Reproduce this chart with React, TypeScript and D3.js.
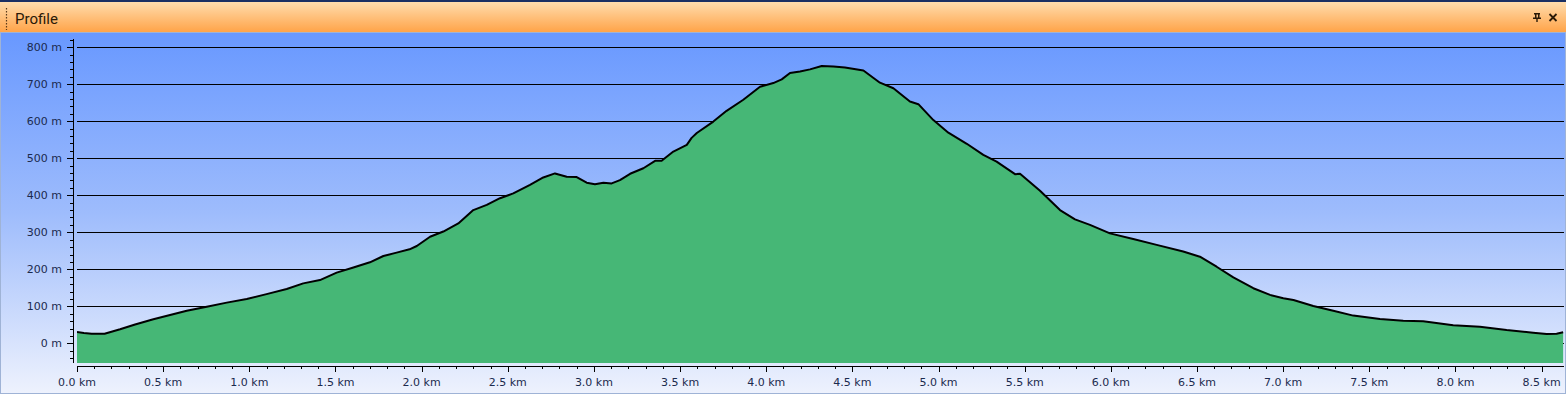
import React from "react";
import * as d3 from "d3";

const distanceKm = [
  0, 0.04, 0.085, 0.16, 0.25, 0.337, 0.443, 0.54, 0.637, 0.753, 0.869, 0.985,
  1.1, 1.217, 1.313, 1.41, 1.507, 1.604, 1.7, 1.778, 1.855, 1.93, 1.972, 2.049,
  2.126, 2.213, 2.3, 2.378, 2.455, 2.532, 2.629, 2.706, 2.774, 2.842, 2.9,
  2.958, 3.006, 3.055, 3.103, 3.151, 3.21, 3.287, 3.355, 3.393, 3.461, 3.539,
  3.567, 3.597, 3.693, 3.77, 3.867, 3.964, 4.041, 4.09, 4.138, 4.196, 4.254,
  4.322, 4.39, 4.457, 4.564, 4.66, 4.738, 4.834, 4.883, 4.97, 5.057, 5.164,
  5.26, 5.337, 5.444, 5.473, 5.589, 5.705, 5.792, 5.879, 5.995, 6.13, 6.266,
  6.42, 6.517, 6.614, 6.711, 6.827, 6.924, 7.001, 7.06, 7.175, 7.291, 7.407,
  7.562, 7.697, 7.813, 7.987, 8.142, 8.297, 8.451, 8.529, 8.587, 8.625,
];
const elevationM = [
  30.5, 28, 26, 26, 38, 51, 65, 76.5, 88, 99, 110, 120, 133, 147, 162, 171, 191,
  205, 219, 236, 245, 254, 263, 288, 302, 324, 360, 374, 392, 405, 428, 448, 459,
  450, 449, 434, 430, 434, 432, 441, 458, 473, 493, 493, 518, 536, 555, 568, 599,
  628, 658, 693, 703, 713, 730, 734, 740, 749, 748, 745, 737, 704, 689, 653, 646,
  603, 569, 539, 509, 491, 457, 458, 412, 360, 335, 320, 297, 282, 266, 248, 234,
  207, 178, 149, 131, 122, 117, 101, 88, 75, 66, 61, 60, 49, 45, 36, 29, 25, 26,
  30,
];
const yTickValues = [0, 100, 200, 300, 400, 500, 600, 700, 800];
const xTickValues = [0, 0.5, 1, 1.5, 2, 2.5, 3, 3.5, 4, 4.5, 5, 5.5, 6, 6.5, 7, 7.5, 8, 8.5];
const titleText = "Profile";

const W = 1566;
const H = 394;
const plotLeft = 77;
const plotRight = 1564;
const plotTop = 39;
const plotBottom = 363;

export default function App() {
  const x = d3.scaleLinear().domain([0, 8.63]).range([plotLeft, plotRight]);
  const y = d3.scaleLinear().domain([-53, 822]).range([plotBottom, plotTop]);
  const pts = distanceKm.map((d, i) => [d, elevationM[i]] as [number, number]);
  const area = d3
    .area<[number, number]>()
    .x((d) => x(d[0]))
    .y0(plotBottom)
    .y1((d) => y(d[1]));
  const line = d3
    .line<[number, number]>()
    .x((d) => x(d[0]))
    .y((d) => y(d[1]));

  const yMinor = d3.range(-40, 821, 20);
  const xMinor = d3.range(0, 86).map((i) => i / 10);
  const axisX = 73;
  const axisY = 366;
  const labelColor = "#1b2a4e";
  const font = "'DejaVu Sans', Verdana, sans-serif";

  return (
    <div style={{ position: "absolute", left: 0, top: 0 }}>
      <svg width={W} height={H} style={{ display: "block" }}>
        <defs>
          <linearGradient id="bg" x1="0" y1="0" x2="0" y2="1">
            <stop offset="0%" stopColor="#6898ff" />
            <stop offset="50%" stopColor="#9ebcfc" />
            <stop offset="100%" stopColor="#eef2fd" />
          </linearGradient>
          <linearGradient id="title" x1="0" y1="0" x2="0" y2="1">
            <stop offset="0%" stopColor="#ffe0b4" />
            <stop offset="100%" stopColor="#ffa449" />
          </linearGradient>
          <clipPath id="plotclip">
            <rect x={plotLeft} y={plotTop - 5} width={plotRight - plotLeft + 1} height={plotBottom - plotTop + 5} />
          </clipPath>
        </defs>

        {/* background */}
        <rect x={0} y={32} width={W} height={H - 32} fill="url(#bg)" />
        {/* title bar */}
        <rect x={0} y={0} width={W} height={32} fill="url(#title)" />
        <rect x={0} y={0} width={W} height={2} fill="#1a2f63" />
        <line x1={6.5} x2={6.5} y1={8} y2={30} stroke="#5a3a1a" strokeWidth={1.2} strokeDasharray="1.5,1.5" />
        <text x={15} y={24} fontFamily="Roboto, 'Noto Sans', sans-serif" fontSize={15} fill="#2a1a08">
          {titleText}
        </text>
        {/* pin icon */}
        <g fill="#2a1a08">
          <rect x={1534} y={13} width={6} height={1.5} />
          <rect x={1535} y={13} width={1.5} height={5} />
          <rect x={1538} y={13} width={1.5} height={5} />
          <rect x={1533} y={17.5} width={8} height={1.5} />
          <rect x={1536.3} y={19} width={1.4} height={3} />
        </g>
        <g stroke="#2a1a08" strokeWidth={1.8}>
          <line x1={1549.5} y1={14} x2={1556.5} y2={21} />
          <line x1={1556.5} y1={14} x2={1549.5} y2={21} />
        </g>

        {/* gridlines */}
        {yTickValues.map((v) => (
          <line key={"g" + v} x1={plotLeft} x2={plotRight} y1={Math.round(y(v)) + 0.5} y2={Math.round(y(v)) + 0.5} stroke="#000" strokeWidth={1} />
        ))}

        {/* area */}
        <g clipPath="url(#plotclip)">
          <path d={area(pts) || ""} fill="#46b776" />
          <path d={line(pts) || ""} fill="none" stroke="#000" strokeWidth={2} strokeLinejoin="round" />
        </g>

        {/* y axis */}
        <line x1={axisX + 0.5} x2={axisX + 0.5} y1={plotTop} y2={plotBottom} stroke="#000" strokeWidth={1} />
        {yMinor.map((v) => {
          const major = v % 100 === 0;
          const yy = Math.round(y(v)) + 0.5;
          return <line key={"ym" + v} x1={major ? axisX - 6 : axisX - 3} x2={axisX} y1={yy} y2={yy} stroke="#000" strokeWidth={1} />;
        })}
        {yTickValues.map((v) => (
          <text key={"yl" + v} x={62} y={y(v)} dy="0.35em" textAnchor="end" fontFamily={font} fontSize={11} fill={labelColor}>
            {`${v} m`}
          </text>
        ))}

        {/* x axis */}
        <line x1={plotLeft} x2={plotRight} y1={axisY + 0.5} y2={axisY + 0.5} stroke="#000" strokeWidth={1} />
        {xMinor.map((v, i) => {
          const major = i % 5 === 0;
          const xx = Math.round(x(v)) + 0.5;
          return <line key={"xm" + i} x1={xx} x2={xx} y1={axisY} y2={axisY + (major ? 6 : 3)} stroke="#000" strokeWidth={1} />;
        })}
        {xTickValues.map((v) => (
          <text key={"xl" + v} x={x(v)} y={386} textAnchor="middle" fontFamily={font} fontSize={11} fill={labelColor}>
            {`${v.toFixed(1)} km`}
          </text>
        ))}

        {/* borders */}
        <rect x={0.5} y={32.5} width={W - 1} height={H - 33} fill="none" stroke="#9fb3d6" strokeWidth={1} />
      </svg>
    </div>
  );
}
